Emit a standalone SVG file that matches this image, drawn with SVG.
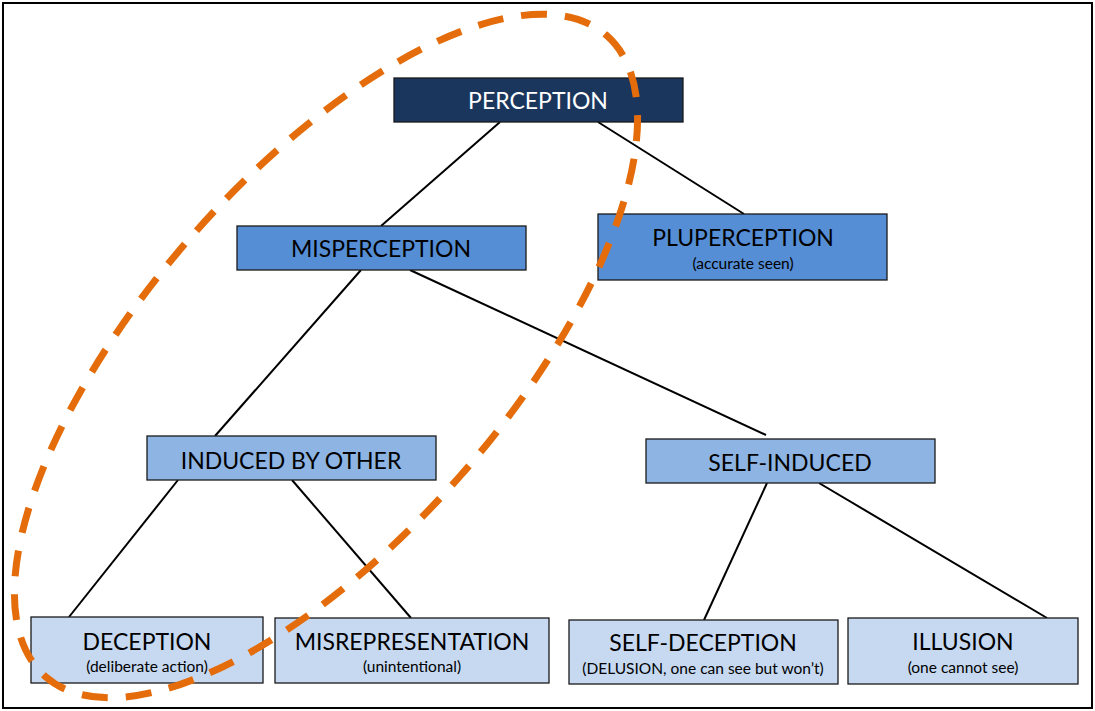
<svg xmlns="http://www.w3.org/2000/svg" width="1095" height="711" viewBox="0 0 1095 711">
<style>
.box{stroke:#1a1a1a;stroke-width:1.3}
.t{font-family:Lato,"Open Sans","Liberation Sans",sans-serif;font-size:23px;text-anchor:middle;fill:#000}
.s{font-family:Lato,"Open Sans","Liberation Sans",sans-serif;font-size:15.5px;text-anchor:middle;fill:#000}
.c{stroke:#000;stroke-width:2;fill:none}
</style>
<rect x="3" y="3" width="1089" height="705" fill="#fff" stroke="#000" stroke-width="2"/>
<g id="connectors">
<line class="c" x1="500" y1="122" x2="381" y2="226"/>
<line class="c" x1="598" y1="122" x2="744" y2="214"/>
<line class="c" x1="361" y1="270" x2="215" y2="436"/>
<line class="c" x1="410" y1="270" x2="766" y2="435"/>
<line class="c" x1="178" y1="480" x2="69" y2="617"/>
<line class="c" x1="292" y1="480" x2="411" y2="618"/>
<line class="c" x1="767" y1="483" x2="704" y2="620"/>
<line class="c" x1="819" y1="483" x2="1047" y2="618"/>
</g>
<g id="perception">
<rect class="box" x="394" y="78" width="289" height="44" fill="#1b365d"/>
<text class="t" x="538" y="109" style="fill:#fff">PERCEPTION</text>
</g>
<g id="misperception">
<rect class="box" x="237" y="226" width="289" height="44" fill="#558ed5"/>
<text class="t" x="381" y="257">MISPERCEPTION</text>
</g>
<g id="pluperception">
<rect class="box" x="598" y="214" width="289" height="66" fill="#558ed5"/>
<text class="t" x="743" y="246">PLUPERCEPTION</text>
<text class="s" x="743" y="269">(accurate seen)</text>
</g>
<g id="induced-by-other">
<rect class="box" x="147" y="436" width="289" height="44" fill="#8eb4e3"/>
<text class="t" x="291" y="469">INDUCED BY OTHER</text>
</g>
<g id="self-induced">
<rect class="box" x="646" y="439" width="289" height="44" fill="#8eb4e3"/>
<text class="t" x="790" y="471">SELF-INDUCED</text>
</g>
<g id="deception">
<rect class="box" x="31" y="617" width="232" height="66" fill="#c6d9f1"/>
<text class="t" x="147" y="650">DECEPTION</text>
<text class="s" x="147" y="672">(deliberate action)</text>
</g>
<g id="misrepresentation">
<rect class="box" x="275" y="618" width="274" height="65" fill="#c6d9f1"/>
<text class="t" x="412" y="650">MISREPRESENTATION</text>
<text class="s" x="412" y="672">(unintentional)</text>
</g>
<g id="self-deception">
<rect class="box" x="569" y="620" width="269" height="64" fill="#c6d9f1"/>
<text class="t" x="703" y="651">SELF-DECEPTION</text>
<text class="s" x="703" y="674">(DELUSION, one can see but won’t)</text>
</g>
<g id="illusion">
<rect class="box" x="848" y="618" width="230" height="66" fill="#c6d9f1"/>
<text class="t" x="963" y="650">ILLUSION</text>
<text class="s" x="963" y="673">(one cannot see)</text>
</g>
<g id="highlight">
<ellipse cx="326" cy="356" rx="426" ry="180" transform="rotate(-48.8 326 356)" fill="none" stroke="#e46c0a" stroke-width="7" stroke-dasharray="26 18"/>
</g>
</svg>
